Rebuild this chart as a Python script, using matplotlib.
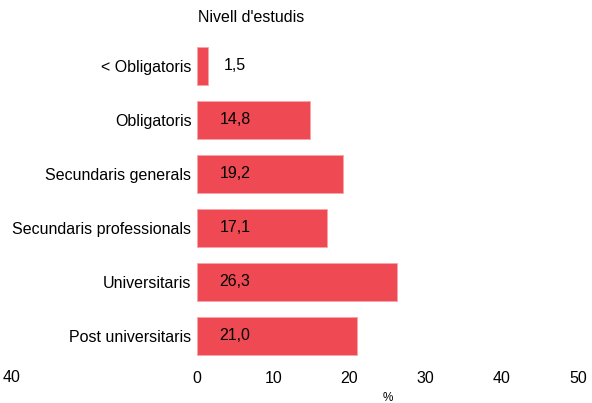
import matplotlib.pyplot as plt

plt.rcParams['font.family'] = ['Liberation Sans', 'DejaVu Sans']

categories = ["< Obligatoris", "Obligatoris", "Secundaris generals",
              "Secundaris professionals", "Universitaris", "Post universitaris"]
values = [1.5, 14.8, 19.2, 17.1, 26.3, 21.0]
xticks = [0, 10, 20, 30, 40, 50]

fig = plt.figure(figsize=(5.92, 4.03), dpi=100)
ax = fig.add_axes([197/592, 40/403, 381/592, 324/403])

y = list(range(len(categories)))
ax.barh(y, values, height=0.69, color="#EF4A54", edgecolor="#F7A5AA", linewidth=0.6)

for yi, v in zip(y, values):
    ax.text(5, yi, f"{v:.1f}".replace(".", ","), ha="center", va="center", fontsize=11.5, color="black")

ax.set_xlim(0, 50)
ax.set_ylim(len(categories) - 0.5, -0.5)
ax.set_yticks(y)
ax.set_yticklabels(categories, fontsize=11.5)
ax.set_xticks(xticks)
ax.set_xticklabels([str(t) for t in xticks], fontsize=11.5)
ax.tick_params(axis="both", length=0)
ax.tick_params(axis="y", pad=4)
ax.tick_params(axis="x", pad=6)
for s in ax.spines.values():
    s.set_visible(False)

ax.set_xlabel("%", fontsize=8.5, labelpad=4)
fig.text(198/592, (403-17)/403, "Nivell d'estudis", fontsize=11.5, ha="left", va="center")
fig.text(12/592, (403-377)/403, "40", fontsize=11.5, ha="center", va="center")

fig.savefig("out.png", dpi=100, facecolor="white")
